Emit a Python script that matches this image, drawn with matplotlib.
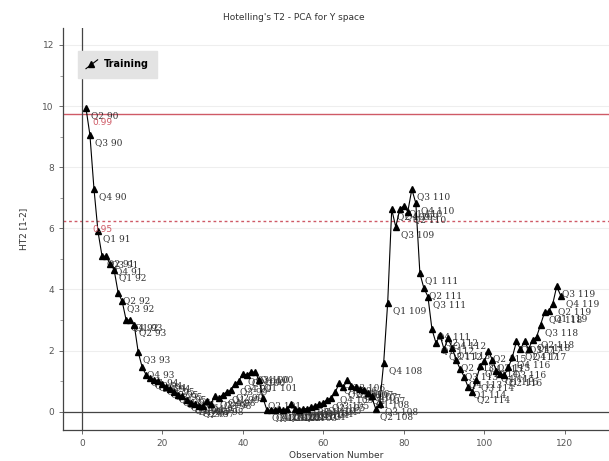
import matplotlib
matplotlib.use("Agg")
import matplotlib.pyplot as plt
from matplotlib.legend_handler import HandlerLine2D
from matplotlib.lines import Line2D
import numpy as np

# Hotelling's T2 per observation (Q2 1990 .. Q4 2019 -> obs 1..119)
obs = list(range(1, 120))
ht2 = [
    9.95, 9.05, 7.30, 5.90, 5.10, 5.08, 4.85, 4.65, 3.90, 3.62,
    3.00, 3.00, 2.85, 1.95, 1.45, 1.20, 1.10, 1.05, 1.00, 0.90,
    0.80, 0.75, 0.65, 0.55, 0.50, 0.40, 0.30, 0.25, 0.20, 0.20,
    0.35, 0.25, 0.50, 0.45, 0.55, 0.65, 0.70, 0.90, 1.00, 1.25,
    1.20, 1.30, 1.30, 1.05, 0.45, 0.05, 0.05, 0.05, 0.10, 0.05,
    0.10, 0.25, 0.10, 0.05, 0.10, 0.10, 0.15, 0.20, 0.25, 0.30,
    0.40, 0.45, 0.65, 0.95, 0.80, 1.05, 0.85, 0.80, 0.75, 0.70,
    0.60, 0.50, 0.10, 0.25, 1.60, 3.57, 6.62, 6.05, 6.62, 6.73,
    6.55, 7.28, 6.82, 4.53, 4.04, 3.77, 2.70, 2.25, 2.50, 2.05,
    2.40, 2.10, 1.70, 1.40, 1.15, 0.80, 0.65, 1.05, 1.50, 1.65,
    2.00, 1.70, 1.35, 1.25, 1.20, 1.45, 1.80, 2.30, 2.05, 2.30,
    2.05, 2.35, 2.45, 2.85, 3.26, 3.30, 3.52, 4.10, 3.80,
]
# quarter labels
point_labels = []
for i in range(len(obs)):
    k = i + 1  # Q2 90 is index 1
    year = 90 + k // 4
    q = k % 4 + 1
    point_labels.append(f"Q{q} {year}")

limit_99 = 9.75
limit_95 = 6.25
red = "#cf5a66"


class DiagonalHandler(HandlerLine2D):
    def create_artists(self, legend, orig_handle, xdescent, ydescent,
                       width, height, fontsize, trans):
        line = Line2D([0, width], [-0.2 * height, 1.1 * height],
                      color="black", lw=0.8, transform=trans)
        mark = Line2D([0.45 * width], [0.45 * height], marker="^",
                      color="black", ms=5, transform=trans)
        return [line, mark]


fig = plt.figure(figsize=(6.09, 4.61), dpi=100)
ax = fig.add_axes([0.1034, 0.067, 0.8966, 0.872])

ax.axhline(limit_99, color=red, lw=1.0, zorder=1)
ax.axhline(limit_95, color=red, lw=1.0, ls=(0, (2, 2)), zorder=1)
ax.axhline(0, color="#444444", lw=0.9, zorder=1)
ax.axvline(0, color="#444444", lw=0.9, zorder=1)

line, = ax.plot(obs, ht2, color="black", lw=0.8, marker="^", ms=4.5,
                label="Training", zorder=3)

for x, y, lab in zip(obs, ht2, point_labels):
    ax.annotate(lab, (x, y), xytext=(3.5, -5.5), textcoords="offset points",
                fontsize=6.5, color="#333333", family="DejaVu Serif",
                ha="left", va="center", zorder=2)

ax.text(2.6, limit_99 - 0.3, "0.99", color=red, fontsize=6.5, va="center")
ax.text(2.6, limit_95 - 0.3, "0.95", color=red, fontsize=6.5, va="center")

ax.set_xlim(-4.7, 131)
ax.set_ylim(-0.6, 12.55)
ax.set_xticks(range(0, 121, 20))
ax.set_yticks(range(0, 13, 2))
ax.set_yticks(range(1, 13, 2), minor=True)
ax.grid(axis="y", color="#eeeeee", lw=0.8)
ax.set_axisbelow(True)
ax.tick_params(labelsize=6.5, colors="#555555", length=3, width=0.6)
ax.tick_params(which="minor", length=2, width=0.5, colors="#777777")
for s in ["top", "right"]:
    ax.spines[s].set_visible(False)
for s in ["left", "bottom"]:
    ax.spines[s].set_color("#444444")
    ax.spines[s].set_linewidth(0.9)

ax.set_xlabel("Observation Number", fontsize=6.5, color="#333333", labelpad=2)
ax.set_ylabel("HT2 [1-2]", fontsize=6.5, color="#333333", labelpad=10)
fig.text(0.483, 0.962, "Hotelling's T2 - PCA for Y space", fontsize=6.5,
         color="#333333", ha="center", va="center")

leg = ax.legend(handles=[line], loc="upper left", bbox_to_anchor=(0.027, 0.943),
                handler_map={line: DiagonalHandler()}, frameon=True,
                fancybox=False, handlelength=1.2, handletextpad=0.6,
                borderpad=0.85, borderaxespad=0,
                prop={"weight": "bold", "size": 7})
leg.get_frame().set_facecolor("#e3e3e3")
leg.get_frame().set_edgecolor("#e3e3e3")
leg.get_frame().set_alpha(1)
leg.set_zorder(5)

fig.savefig("out.png", dpi=100)
